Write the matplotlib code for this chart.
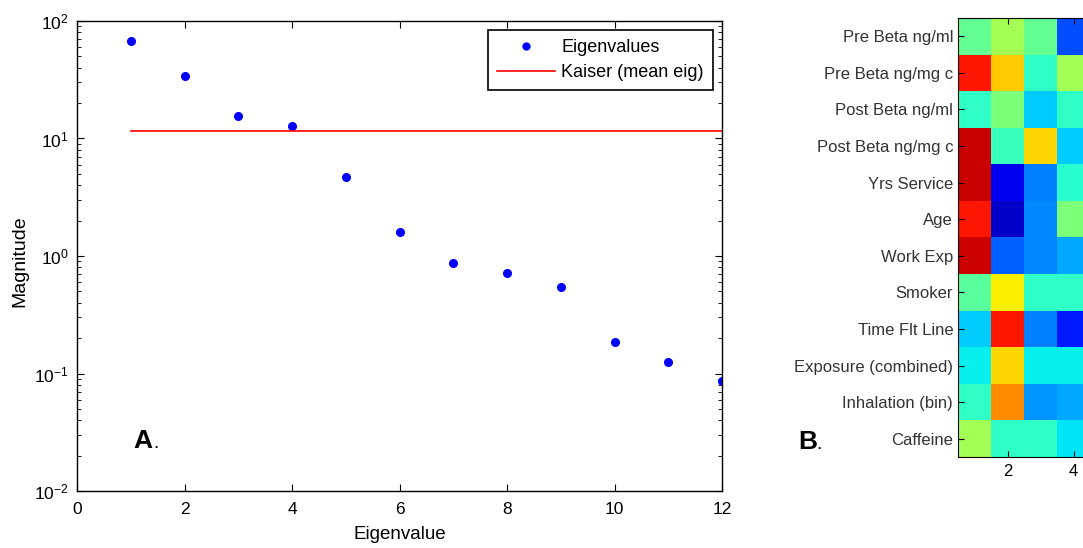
import numpy as np
import matplotlib
matplotlib.use('Agg')
import matplotlib.pyplot as plt

plt.rcParams['font.family'] = ['Liberation Sans', 'DejaVu Sans']
plt.rcParams['axes.unicode_minus'] = False

# scree values read per component
eig_idx = np.arange(1, 13)
eigenvalues = [67.7, 34.0, 15.5, 12.8, 4.7, 1.6, 0.87, 0.716, 0.545, 0.185, 0.125, 0.086]
kaiser = np.mean(eigenvalues)

# loadings for the first components
variables = ['Pre Beta ng/ml', 'Pre Beta ng/mg c', 'Post Beta ng/ml', 'Post Beta ng/mg c',
             'Yrs Service', 'Age', 'Work Exp', 'Smoker', 'Time Flt Line',
             'Exposure (combined)', 'Inhalation (bin)', 'Caffeine']
comp1 = [-0.06, 0.77, -0.18, 0.87, 0.87, 0.77, 0.86, -0.08, -0.35, -0.28, -0.18, 0.10]
comp2 = [0.10, 0.39, 0.00, -0.16, -0.80, -0.87, -0.56, 0.31, 0.77, 0.36, 0.52, -0.18]
comp3 = [-0.06, -0.18, -0.35, 0.36, -0.50, -0.48, -0.48, -0.18, -0.50, -0.28, -0.46, -0.18]
comp4 = [-0.60, 0.10, -0.18, -0.35, -0.20, 0.00, -0.42, -0.18, -0.70, -0.28, -0.42, -0.30]

fig = plt.figure(figsize=(10.83, 5.48), dpi=100)

# --- A: scree plot ---
ax = fig.add_axes([0.0711, 0.104, 0.5956, 0.8577])
ax.semilogy(eig_idx, eigenvalues, 'o', color='#0000ff', markersize=5.5, label='Eigenvalues')
ax.plot([1, 12], [kaiser, kaiser], '-', color='#ff0000', lw=1.2, label='Kaiser (mean eig)')
ax.set_xlim(0, 12)
ax.set_ylim(1e-2, 1e2)
ax.set_xticks(range(0, 13, 2))
ax.tick_params(which='both', direction='in', top=True, right=True, labelsize=12.5)
ax.tick_params(which='major', length=5)
ax.tick_params(which='minor', length=3)
ax.tick_params(axis='y', pad=6)
ax.tick_params(axis='x', pad=8)
ax.set_xlabel('Eigenvalue', fontsize=13.5, va='top')
ax.xaxis.set_label_coords(0.5, -0.075)
ax.set_ylabel('Magnitude', fontsize=14)
ax.yaxis.set_label_coords(-0.075, 0.49)
for s in ax.spines.values():
    s.set_linewidth(1.0)
leg = ax.legend(loc='upper right', fontsize=13, fancybox=False, edgecolor='black',
                framealpha=1, borderaxespad=0.5, handlelength=3.2, handletextpad=0.35,
                labelspacing=0.45, borderpad=0.5, numpoints=1, markerscale=0.9)
leg.get_frame().set_linewidth(1.2)
fig.text(133 / 1083, 100 / 548, 'A', fontsize=19, fontweight='bold', va='baseline')
fig.text(153 / 1083, 100 / 548, '.', fontsize=14, va='baseline')

# --- B: loadings heatmap ---
loadings = np.column_stack([comp1, comp2, comp3, comp4])
hx = fig.add_axes([958 / 1083, 91 / 548, 132 / 1083, 439 / 548])
hx.imshow(loadings, cmap='jet', vmin=-1, vmax=1, aspect='auto', interpolation='nearest',
          extent=[0.5, 4.5, 12.5, 0.5])
hx.set_xlim(0.5, 4.5)
hx.set_ylim(12.5, 0.5)
hx.set_yticks(range(1, 13))
hx.set_yticklabels(variables, fontsize=10.5, color='#333333')
hx.set_xticks([2, 4])
hx.tick_params(direction='in', top=True, labelsize=12, length=4)
hx.tick_params(axis='x', pad=5)
for s in hx.spines.values():
    s.set_linewidth(0.8)
fig.text(798 / 1083, 99 / 548, 'B', fontsize=19, fontweight='bold', va='baseline')
fig.text(816 / 1083, 99 / 548, '.', fontsize=14, va='baseline')

fig.savefig('out.png', dpi=100)
